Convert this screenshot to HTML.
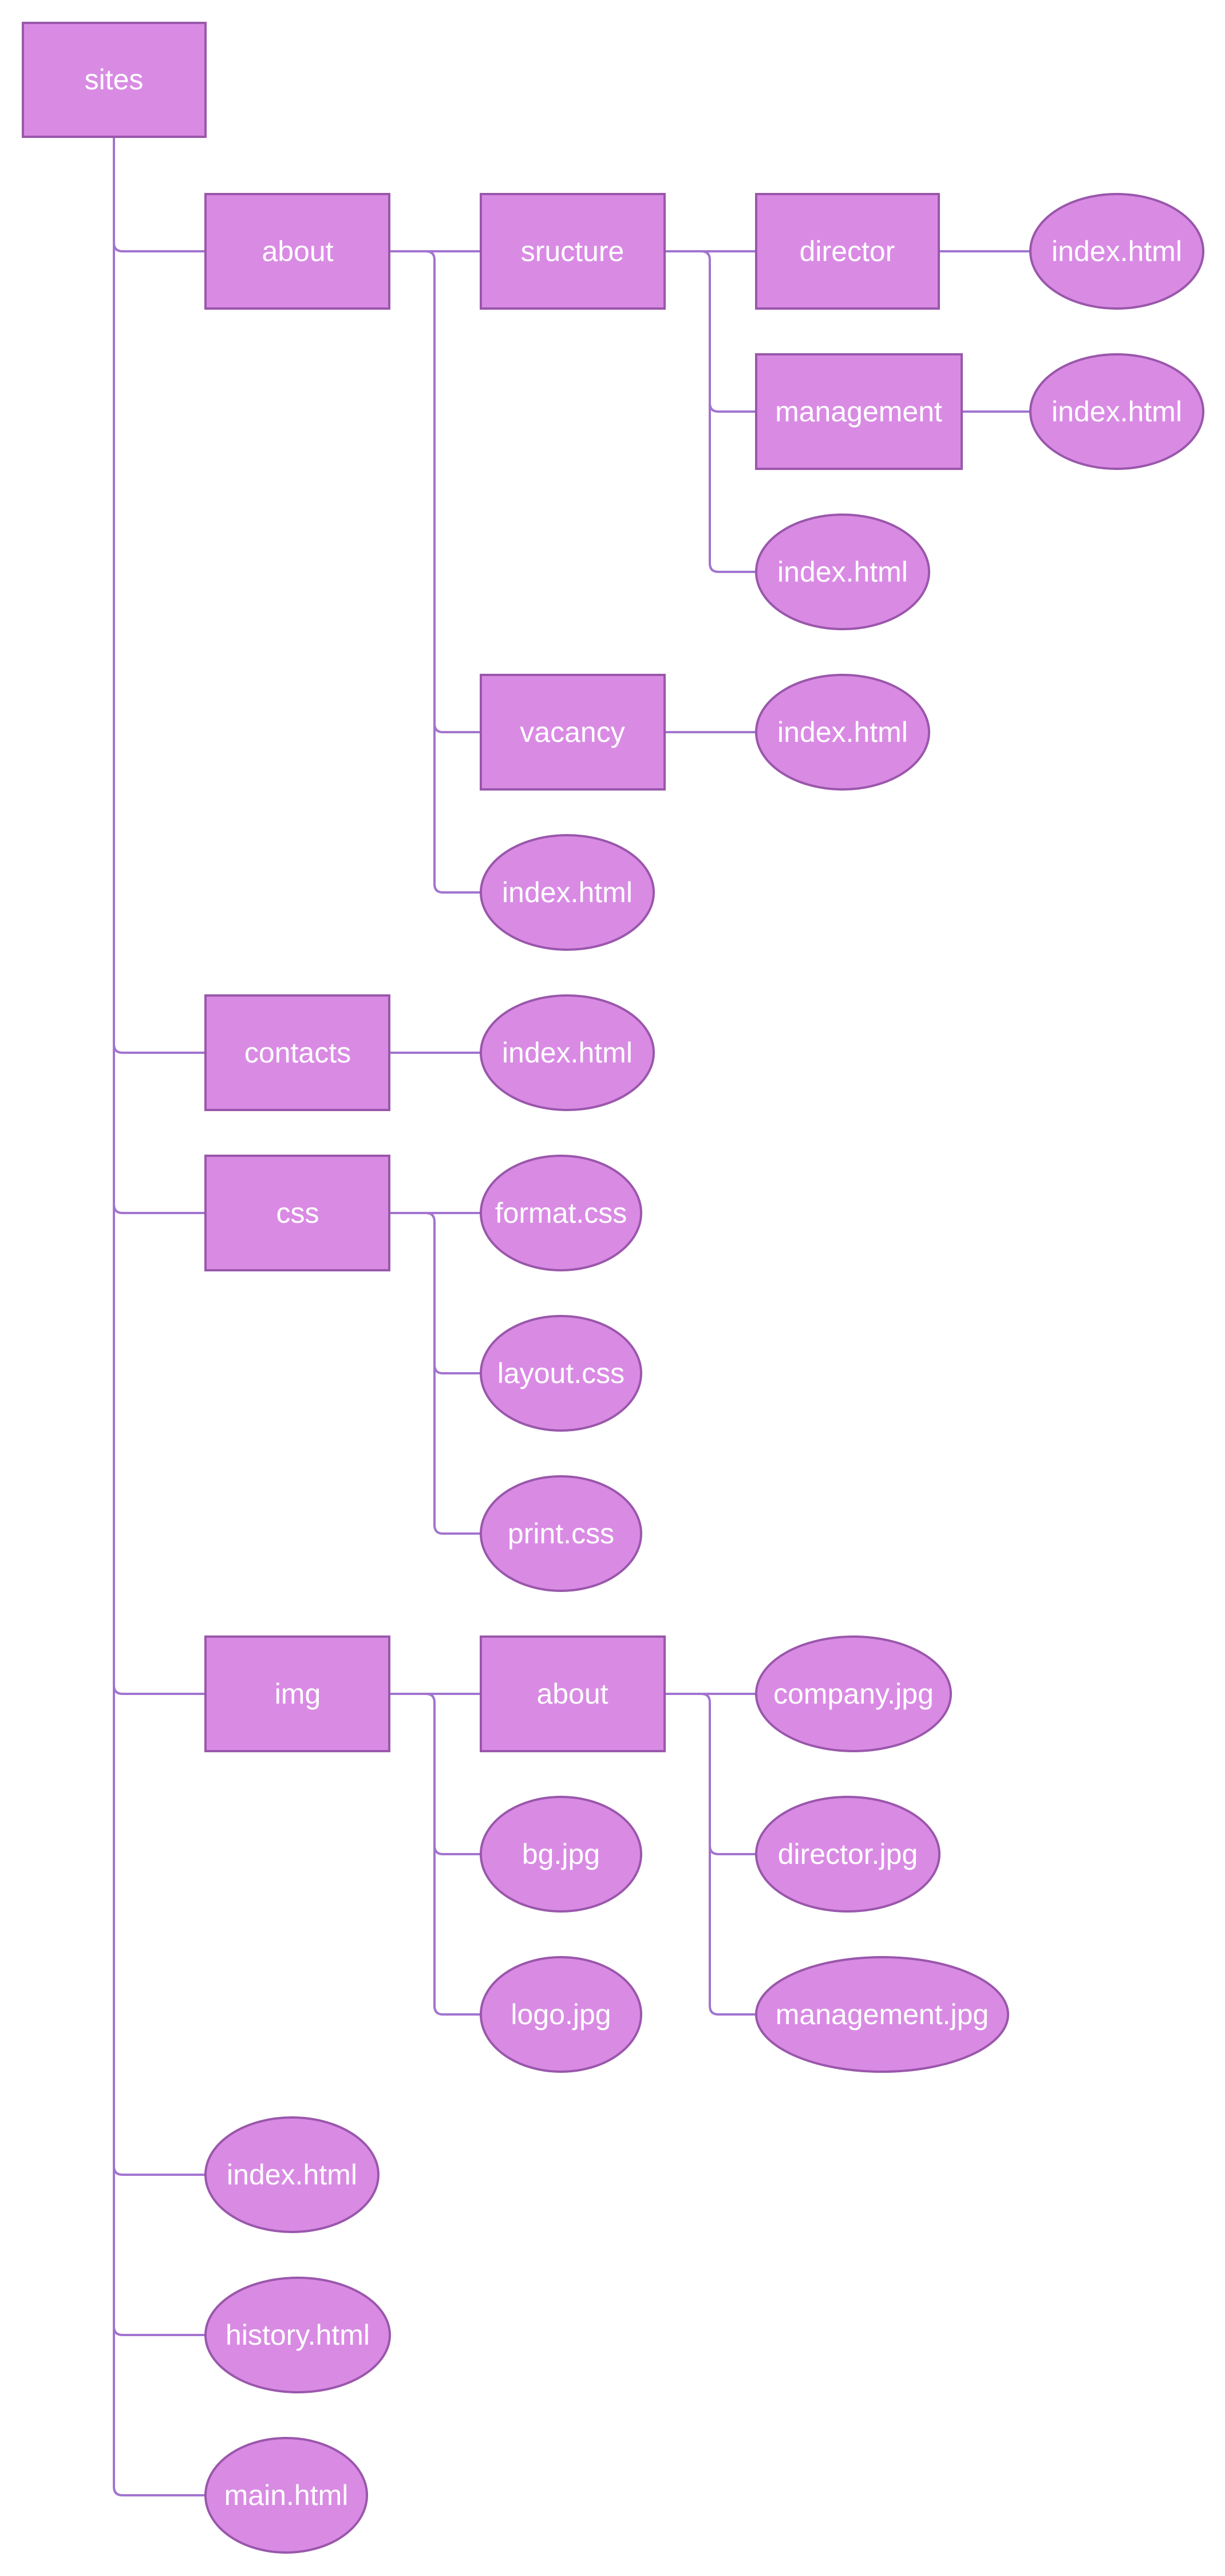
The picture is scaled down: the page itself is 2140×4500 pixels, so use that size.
<!DOCTYPE html>
<html><head><meta charset="utf-8"><style>
html,body{margin:0;padding:0;background:#fff;}
svg{display:block}
text{font-family:"Liberation Sans",sans-serif;font-size:50px;fill:#fff;text-anchor:middle;dominant-baseline:central}
.n{fill:#d98be4;stroke:#9a57ab;stroke-width:4}
.c{fill:none;stroke:#a274cf;stroke-width:4}
</style></head><body>
<svg width="2140" height="4500" viewBox="0 0 2140 4500" xmlns="http://www.w3.org/2000/svg">
<!-- connectors -->
<g class="c">
<!-- sites trunk -->
<path d="M199,238 V4344 Q199,4359 214,4359 H359"/>
<path d="M199,424 Q199,439 214,439 H359"/>
<path d="M199,1824 Q199,1839 214,1839 H359"/>
<path d="M199,2104 Q199,2119 214,2119 H359"/>
<path d="M199,2944 Q199,2959 214,2959 H359"/>
<path d="M199,3784 Q199,3799 214,3799 H359"/>
<path d="M199,4064 Q199,4079 214,4079 H359"/>
<!-- about trunk -->
<path d="M680,439 H840"/>
<path d="M680,439 H744 Q759,439 759,454 V1544 Q759,1559 774,1559 H840"/>
<path d="M759,1264 Q759,1279 774,1279 H840"/>
<!-- sructure trunk -->
<path d="M1161,439 H1321"/>
<path d="M1161,439 H1225 Q1240,439 1240,454 V984 Q1240,999 1255,999 H1321"/>
<path d="M1240,704 Q1240,719 1255,719 H1321"/>
<path d="M1640,439 H1801"/>
<path d="M1680,719 H1801"/>
<path d="M1161,1279 H1321"/>
<path d="M680,1839 H840"/>
<!-- css trunk -->
<path d="M680,2119 H840"/>
<path d="M680,2119 H744 Q759,2119 759,2134 V2664 Q759,2679 774,2679 H840"/>
<path d="M759,2384 Q759,2399 774,2399 H840"/>
<!-- img trunk -->
<path d="M680,2959 H840"/>
<path d="M680,2959 H744 Q759,2959 759,2974 V3504 Q759,3519 774,3519 H840"/>
<path d="M759,3224 Q759,3239 774,3239 H840"/>
<!-- img/about trunk -->
<path d="M1161,2959 H1321"/>
<path d="M1161,2959 H1225 Q1240,2959 1240,2974 V3504 Q1240,3519 1255,3519 H1321"/>
<path d="M1240,3224 Q1240,3239 1255,3239 H1321"/>
</g>
<!-- nodes -->
<rect class="n" x="40" y="40" width="319" height="199"/><text x="199" y="139">sites</text>
<rect class="n" x="359" y="339" width="321" height="200"/><text x="520" y="439">about</text>
<rect class="n" x="840" y="339" width="321" height="200"/><text x="1000" y="439">sructure</text>
<rect class="n" x="1321" y="339" width="319" height="200"/><text x="1480" y="439">director</text>
<ellipse class="n" cx="1951" cy="439" rx="151" ry="100"/><text x="1951" y="439">index.html</text>
<rect class="n" x="1321" y="619" width="359" height="200"/><text x="1500" y="719">management</text>
<ellipse class="n" cx="1951" cy="719" rx="151" ry="100"/><text x="1951" y="719">index.html</text>
<ellipse class="n" cx="1472" cy="999" rx="151" ry="100"/><text x="1472" y="999">index.html</text>
<rect class="n" x="840" y="1179" width="321" height="200"/><text x="1000" y="1279">vacancy</text>
<ellipse class="n" cx="1472" cy="1279" rx="151" ry="100"/><text x="1472" y="1279">index.html</text>
<ellipse class="n" cx="991" cy="1559" rx="151" ry="100"/><text x="991" y="1559">index.html</text>
<rect class="n" x="359" y="1739" width="321" height="200"/><text x="520" y="1839">contacts</text>
<ellipse class="n" cx="991" cy="1839" rx="151" ry="100"/><text x="991" y="1839">index.html</text>
<rect class="n" x="359" y="2019" width="321" height="200"/><text x="520" y="2119">css</text>
<ellipse class="n" cx="980" cy="2119" rx="140" ry="100"/><text x="980" y="2119">format.css</text>
<ellipse class="n" cx="980" cy="2399" rx="140" ry="100"/><text x="980" y="2399">layout.css</text>
<ellipse class="n" cx="980" cy="2679" rx="140" ry="100"/><text x="980" y="2679">print.css</text>
<rect class="n" x="359" y="2859" width="321" height="200"/><text x="520" y="2959">img</text>
<rect class="n" x="840" y="2859" width="321" height="200"/><text x="1000" y="2959">about</text>
<ellipse class="n" cx="1491" cy="2959" rx="170" ry="100"/><text x="1491" y="2959">company.jpg</text>
<ellipse class="n" cx="980" cy="3239" rx="140" ry="100"/><text x="980" y="3239">bg.jpg</text>
<ellipse class="n" cx="1481" cy="3239" rx="160" ry="100"/><text x="1481" y="3239">director.jpg</text>
<ellipse class="n" cx="980" cy="3519" rx="140" ry="100"/><text x="980" y="3519">logo.jpg</text>
<ellipse class="n" cx="1541" cy="3519" rx="220" ry="100"/><text x="1541" y="3519">management.jpg</text>
<ellipse class="n" cx="510" cy="3799" rx="151" ry="100"/><text x="510" y="3799">index.html</text>
<ellipse class="n" cx="520" cy="4079" rx="161" ry="100"/><text x="520" y="4079">history.html</text>
<ellipse class="n" cx="500" cy="4359" rx="141" ry="100"/><text x="500" y="4359">main.html</text>
</svg>
</body></html>
